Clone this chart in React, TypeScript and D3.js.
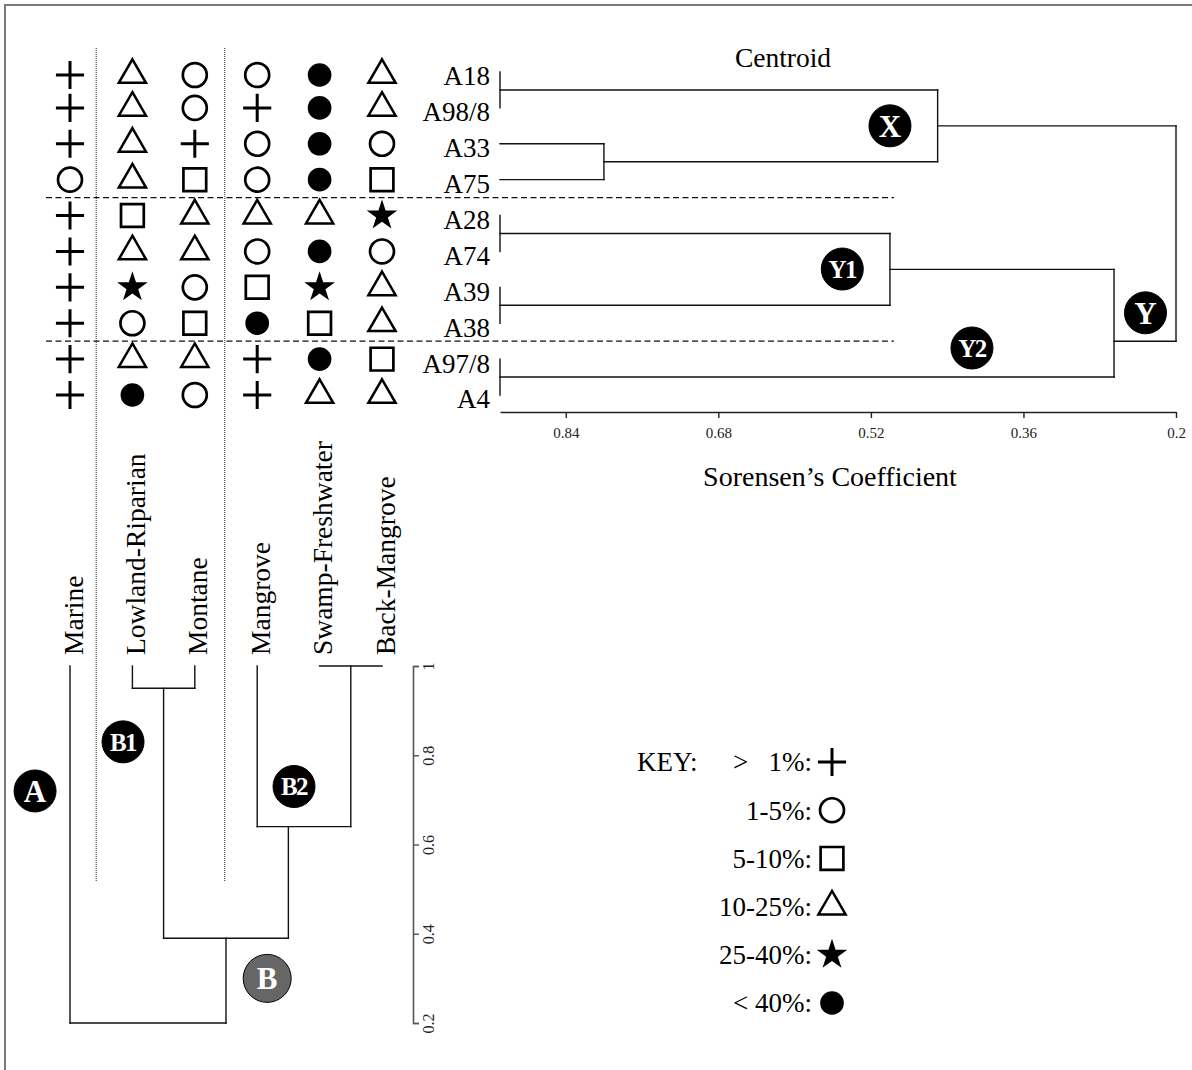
import React, { useEffect, useRef } from 'react';
import * as d3 from 'd3';

const siteLabels = ['A18', 'A98/8', 'A33', 'A75', 'A28', 'A74', 'A39', 'A38', 'A97/8', 'A4'];
const habitats = ['Marine', 'Lowland-Riparian', 'Montane', 'Mangrove', 'Swamp-Freshwater', 'Back-Mangrove'];

// abundance class for each site (row) in each habitat (column)
// p: > 1%, c: 1-5%, s: 5-10%, t: 10-25%, r: 25-40%, f: < 40%
const abundance = [
  ['p', 't', 'c', 'c', 'f', 't'],
  ['p', 't', 'c', 'p', 'f', 't'],
  ['p', 't', 'p', 'c', 'f', 'c'],
  ['c', 't', 's', 'c', 'f', 's'],
  ['p', 's', 't', 't', 't', 'r'],
  ['p', 't', 't', 'c', 'f', 'c'],
  ['p', 'r', 'c', 's', 'r', 't'],
  ['p', 'c', 's', 'f', 's', 't'],
  ['p', 't', 't', 'p', 'f', 's'],
  ['p', 'f', 'c', 'p', 't', 't'],
];

const keyClasses = ['p', 'c', 's', 't', 'r', 'f'];
const keyLabels = ['>  1%:', '1-5%:', '5-10%:', '10-25%:', '25-40%:', '< 40%:'];

// merges [a, b, height, join] ; ids past the leaves point to earlier merges
const siteLeafLevel = 0.909;
const siteMerges = [
  [0, 1, 0.909, 0.5],
  [2, 3, 0.8, 0.5],
  [4, 5, 0.909, 0.5],
  [6, 7, 0.909, 0.5],
  [8, 9, 0.909, 0.5],
  [10, 11, 0.45, 0.5],
  [12, 13, 0.5, 0.5],
  [16, 14, 0.265, 0.667],
  [15, 17, 0.2, 0.5],
];
const siteTicks = [0.84, 0.68, 0.52, 0.36, 0.2];

const habitatLeafLevel = 1;
const habitatMerges = [
  [1, 2, 0.95, 0.5],
  [4, 5, 1.0, 0.5],
  [3, 7, 0.64, 0.333],
  [6, 8, 0.39, 0.5],
  [0, 9, 0.2, 0.5],
];
const habitatTicks = [0.2, 0.4, 0.6, 0.8, 1];

const siteBadges = [
  { label: 'X', v: 0.5, row: 1.5 },
  { label: 'Y1', v: 0.55, row: 5.49 },
  { label: 'Y2', v: 0.414, row: 7.69 },
  { label: 'Y', v: 0.232, row: 6.71 },
];
const habitatBadges = [
  { label: 'A', v: 0.72, col: -0.56 },
  { label: 'B1', v: 0.83, col: 0.85 },
  { label: 'B2', v: 0.73, col: 3.59 },
  { label: 'B', v: 0.3, col: 3.16 },
];

const serif = '"Liberation Serif", "Times New Roman", serif';

const symbols: any = {
  p: { type: d3.symbolPlus, size: 260, fill: 'none', width: 3 },
  c: { type: d3.symbolCircle, size: 450, fill: 'none', width: 2.7 },
  s: { type: d3.symbolSquare2, size: 660, fill: 'none', width: 2.7 },
  t: { type: d3.symbolTriangle2, size: 530, fill: 'none', width: 2.5 },
  r: { type: d3.symbolStar, size: 290, fill: '#000', width: 0 },
  f: { type: d3.symbolCircle, size: 440, fill: '#000', width: 0 },
};

function treeSegments(n: number, merges: number[][], leafLevel: number) {
  const pos = d3.range(n);
  const lvl = pos.map(() => leafLevel);
  const segs: number[][] = [];
  merges.forEach(([a, b, h, at]) => {
    segs.push([pos[a], lvl[a], pos[a], h]);
    segs.push([pos[b], lvl[b], pos[b], h]);
    segs.push([pos[a], h, pos[b], h]);
    pos.push(pos[a] + at * (pos[b] - pos[a]));
    lvl.push(h);
  });
  return segs.filter(s => s[0] !== s[2] || s[1] !== s[3]);
}

function drawSymbol(g: any, cls: string, x: number, y: number) {
  const s = symbols[cls];
  g.append('path')
    .attr('transform', `translate(${x},${y})`)
    .attr('d', d3.symbol().type(s.type).size(s.size)())
    .attr('fill', s.fill)
    .attr('stroke', s.width ? '#000' : 'none')
    .attr('stroke-width', s.width);
}

function drawBadge(g: any, label: string, x: number, y: number) {
  const big = label === 'B';
  const r = big ? 24 : 21;
  g.append('circle')
    .attr('cx', x).attr('cy', y).attr('r', r)
    .attr('fill', big ? '#666' : '#000')
    .attr('stroke', '#000').attr('stroke-width', 1);
  g.append('text')
    .attr('x', x).attr('y', y).attr('dy', '0.35em')
    .attr('text-anchor', 'middle')
    .attr('fill', '#fff')
    .attr('font-weight', 'bold')
    .attr('font-size', label.length > 1 ? 25 : 31)
    .attr('letter-spacing', label.length > 1 ? -1.5 : 0)
    .text(label);
}

export default function App() {
  const ref = useRef<SVGSVGElement>(null);

  useEffect(() => {
    const svg = d3.select(ref.current);
    svg.selectAll('*').remove();
    svg.attr('font-family', serif);

    // frame
    svg.append('rect')
      .attr('x', 5).attr('y', 5).attr('width', 1200).attr('height', 1100)
      .attr('fill', 'none').attr('stroke', '#7a7a7a').attr('stroke-width', 2);

    const yRow = d3.scaleLinear().domain([0, siteLabels.length - 1]).range([72, 395]);
    const xCol = d3.scaleLinear().domain([0, habitats.length - 1]).range([70, 382]);
    const xSim = d3.scaleLinear().domain([siteLeafLevel, 0.2]).range([500, 1176]);
    const yHab = d3.scaleLinear().domain([0.2, habitatLeafLevel]).range([1023, 666]);

    // guide lines
    [0.42, 2.48].forEach(c => {
      svg.append('line')
        .attr('x1', xCol(c)).attr('x2', xCol(c)).attr('y1', 48).attr('y2', 882)
        .attr('stroke', '#222').attr('stroke-width', 1).attr('stroke-dasharray', '1,1');
    });
    [3.5, 7.5].forEach(r => {
      svg.append('line')
        .attr('x1', 46).attr('x2', 894).attr('y1', yRow(r)).attr('y2', yRow(r))
        .attr('stroke', '#111').attr('stroke-width', 1.3).attr('stroke-dasharray', '6,3.5');
    });

    // symbol grid
    const grid = svg.append('g');
    abundance.forEach((row, i) => {
      row.forEach((cls, j) => drawSymbol(grid, cls, xCol(j), yRow(i) + (i === 0 ? 3 : 0)));
    });

    // site dendrogram
    const right = svg.append('g');
    right.selectAll('line.seg')
      .data(treeSegments(siteLabels.length, siteMerges, siteLeafLevel))
      .enter().append('line')
      .attr('x1', d => xSim(d[1])).attr('y1', d => yRow(d[0]))
      .attr('x2', d => xSim(d[3])).attr('y2', d => yRow(d[2]))
      .attr('stroke', '#111').attr('stroke-width', 1.4).attr('stroke-linecap', 'square');

    right.selectAll('text.site')
      .data(siteLabels)
      .enter().append('text')
      .attr('x', 490).attr('y', (d, i) => yRow(i) + 4).attr('dy', '0.35em')
      .attr('text-anchor', 'end').attr('font-size', 27)
      .text(d => d);

    const xAxis = svg.append('g')
      .attr('transform', 'translate(0,412)')
      .call(d3.axisBottom(xSim).tickValues(siteTicks).tickFormat(d3.format('')).tickSize(6).tickSizeOuter(0).tickPadding(9));
    xAxis.select('.domain').attr('stroke', '#222').attr('stroke-width', 1.4);
    xAxis.selectAll('.tick line').attr('stroke', '#222').attr('stroke-width', 1.4);
    xAxis.selectAll('text').attr('font-family', serif).attr('font-size', 15).attr('fill', '#222');

    svg.append('text').attr('x', 783).attr('y', 57).attr('dy', '0.35em')
      .attr('text-anchor', 'middle').attr('font-size', 27.5).text('Centroid');
    svg.append('text').attr('x', 830).attr('y', 476).attr('dy', '0.35em')
      .attr('text-anchor', 'middle').attr('font-size', 28).text('Sorensen\u2019s Coefficient');

    siteBadges.forEach(b => drawBadge(svg, b.label, xSim(b.v), yRow(b.row)));

    // habitat dendrogram
    const left = svg.append('g');
    left.selectAll('line.seg')
      .data(treeSegments(habitats.length, habitatMerges, habitatLeafLevel))
      .enter().append('line')
      .attr('x1', d => xCol(d[0])).attr('y1', d => yHab(d[1]))
      .attr('x2', d => xCol(d[2])).attr('y2', d => yHab(d[3]))
      .attr('stroke', '#111').attr('stroke-width', 1.4).attr('stroke-linecap', 'square');

    left.selectAll('text.hab')
      .data(habitats)
      .enter().append('text')
      .attr('transform', (d, i) => `translate(${xCol(i) + 3},655) rotate(-90)`)
      .attr('dy', '0.35em')
      .attr('text-anchor', 'start').attr('font-size', 27.5)
      .text(d => d);

    const yAxis = svg.append('g')
      .attr('transform', 'translate(413,0)')
      .call(d3.axisRight(yHab).tickValues(habitatTicks).tickFormat(d3.format('')).tickSize(6));
    yAxis.select('.domain').attr('stroke', '#555').attr('stroke-width', 1.6);
    yAxis.selectAll('.tick line').attr('stroke', '#555').attr('stroke-width', 1.4);
    yAxis.selectAll('text')
      .attr('x', null).attr('dy', '0.35em')
      .attr('transform', 'translate(15,0) rotate(-90)')
      .attr('text-anchor', 'middle')
      .attr('font-family', serif).attr('font-size', 16).attr('fill', '#222');

    habitatBadges.forEach(b => drawBadge(svg, b.label, xCol(b.col), yHab(b.v)));

    // key
    const key = svg.append('g');
    const yKey = d3.scalePoint().domain(keyClasses).range([762, 1003]);
    key.append('text').attr('x', 637).attr('y', yKey('p')).attr('dy', '0.35em')
      .attr('font-size', 27).text('KEY:');
    keyClasses.forEach((cls, i) => {
      key.append('text')
        .attr('x', 812).attr('y', yKey(cls)).attr('dy', '0.35em')
        .attr('text-anchor', 'end').attr('font-size', 27)
        .attr('xml:space', 'preserve').style('white-space', 'pre')
        .text(i === 0 ? '>   1%:' : keyLabels[i]);
      drawSymbol(key, cls, 832, yKey(cls)!);
    });
  }, []);

  return (
    <div style={{ position: 'absolute', left: 0, top: 0 }}>
      <svg ref={ref} width={1192} height={1070} style={{ display: 'block', background: '#fff' }} />
    </div>
  );
}
